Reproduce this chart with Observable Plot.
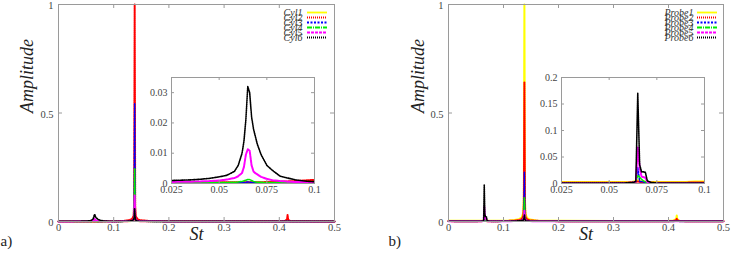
<!DOCTYPE html>
<html><head><meta charset="utf-8">
<script src="https://cdn.jsdelivr.net/npm/d3@7"></script>
<script src="https://cdn.jsdelivr.net/npm/@observablehq/plot@0.6"></script>
<style>
body{margin:0;background:#fff;}
#wrap{position:relative;width:731px;height:256px;overflow:hidden;background:#fff;}
#wrap svg{position:absolute;}
#wrap svg text{font-family:'Liberation Serif','DejaVu Serif',serif !important;}
</style></head><body><div id="wrap"></div>
<script>
// Strouhal number grid (shared)
const St = [0, 0.01, 0.02, 0.025, 0.03, 0.035, 0.04, 0.045, 0.05, 0.054,
  0.058, 0.06, 0.062, 0.063, 0.064, 0.065, 0.066, 0.067, 0.068, 0.069,
  0.07, 0.072, 0.075, 0.078, 0.082, 0.086, 0.09, 0.095, 0.1, 0.11,
  0.12, 0.128, 0.133, 0.136, 0.137, 0.138, 0.139, 0.14, 0.143, 0.148,
  0.16, 0.2, 0.3, 0.4, 0.41, 0.414, 0.415, 0.416, 0.42, 0.45,
  0.5];

const cylNames = ["Cyl1", "Cyl2", "Cyl3", "Cyl4", "Cyl5", "Cyl6"];
const probeNames = ["Probe1", "Probe2", "Probe3", "Probe4", "Probe5", "Probe6"];

const cyl1 = [0.0003,0.0002,0.0002,0.0002,0.0002,0.0002,0.0002,0.0002,0.0002,0.0002,
  0.0002,0.0002,0.0002,0.0002,0.0003,0.0003,0.0003,0.0003,0.0002,0.0002,
  0.0002,0.0002,0.0002,0.0002,0.0002,0.0002,0.0002,0.0003,0.0003,0.0004,
  0.0006,0.001,0.002,0.005,0.012,0.03,0.01,0.004,0.002,0.001,
  0.0006,0.0003,0.0002,0.0002,0.0003,0.0006,0.001,0.0005,0.0003,0.0002,
  0.0002];
const cyl2 = [0.0005,0.0004,0.0004,0.0004,0.0004,0.0004,0.0004,0.0004,0.0004,0.0004,
  0.0004,0.0004,0.0004,0.0004,0.0004,0.0004,0.0004,0.0004,0.0004,0.0004,
  0.0004,0.0004,0.0005,0.0005,0.0006,0.0007,0.0008,0.001,0.0012,0.0018,
  0.003,0.006,0.011,0.025,0.08,1.0,0.07,0.025,0.011,0.006,
  0.003,0.0012,0.0006,0.0008,0.002,0.01,0.03,0.008,0.0015,0.0006,
  0.0004];
const cyl3 = [0.0003,0.0002,0.0002,0.0002,0.0002,0.0002,0.0002,0.0002,0.0002,0.0002,
  0.0002,0.0003,0.0003,0.0003,0.0004,0.0005,0.0004,0.0003,0.0003,0.0003,
  0.0002,0.0002,0.0002,0.0002,0.0002,0.0002,0.0002,0.0002,0.0003,0.0004,
  0.0007,0.0015,0.003,0.008,0.03,0.545,0.025,0.007,0.003,0.0015,
  0.0007,0.0003,0.0002,0.0002,0.0002,0.0003,0.0005,0.0003,0.0002,0.0002,
  0.0002];
const cyl4 = [0.0003,0.0003,0.0003,0.0003,0.0003,0.0003,0.0003,0.0003,0.0003,0.0003,
  0.0004,0.0005,0.0007,0.0009,0.0011,0.0013,0.0013,0.001,0.0007,0.0005,
  0.0004,0.0004,0.0003,0.0003,0.0003,0.0003,0.0003,0.0003,0.0003,0.0004,
  0.0006,0.001,0.002,0.005,0.015,0.245,0.012,0.004,0.002,0.001,
  0.0006,0.0003,0.0003,0.0003,0.0003,0.0004,0.0006,0.0004,0.0003,0.0003,
  0.0003];
const cyl5 = [0.0005,0.0005,0.0005,0.0005,0.0006,0.0006,0.0007,0.0008,0.001,0.0013,
  0.0018,0.0024,0.0035,0.0055,0.0095,0.0113,0.0108,0.006,0.004,0.0034,
  0.003,0.0022,0.0015,0.0011,0.0008,0.0006,0.0005,0.0005,0.0005,0.0006,
  0.001,0.002,0.004,0.008,0.02,0.12,0.015,0.006,0.003,0.0015,
  0.0008,0.0005,0.0004,0.0004,0.0004,0.0005,0.0007,0.0005,0.0004,0.0004,
  0.0004];
const cyl6 = [0.001,0.0008,0.0009,0.001,0.0011,0.0012,0.0014,0.0017,0.0022,0.0027,
  0.004,0.006,0.01,0.014,0.021,0.032,0.03,0.022,0.018,0.0155,
  0.013,0.0095,0.006,0.0043,0.0024,0.0018,0.0012,0.0008,0.0006,0.0006,
  0.001,0.002,0.004,0.008,0.02,0.06,0.015,0.005,0.002,0.0012,
  0.0008,0.0005,0.0004,0.0004,0.0004,0.0005,0.0007,0.0005,0.0004,0.0004,
  0.0004];

const probe1 = [0.004,0.003,0.003,0.003,0.003,0.003,0.003,0.003,0.003,0.003,
  0.003,0.003,0.003,0.004,0.005,0.006,0.005,0.004,0.004,0.003,
  0.003,0.003,0.003,0.003,0.003,0.003,0.003,0.004,0.004,0.005,
  0.007,0.011,0.018,0.04,0.12,1.0,0.1,0.035,0.016,0.009,
  0.005,0.003,0.002,0.003,0.005,0.012,0.028,0.01,0.004,0.002,
  0.002];
const probe2 = [0.002,0.0015,0.0015,0.0015,0.0015,0.0015,0.0015,0.0015,0.0015,0.0015,
  0.0015,0.0015,0.002,0.002,0.003,0.004,0.003,0.003,0.002,0.002,
  0.0015,0.0015,0.0015,0.0015,0.0015,0.0015,0.0015,0.002,0.002,0.003,
  0.004,0.006,0.01,0.025,0.08,0.64,0.07,0.02,0.009,0.005,
  0.003,0.0015,0.001,0.0015,0.003,0.006,0.012,0.005,0.002,0.001,
  0.001];
const probe3 = [0.001,0.0008,0.0008,0.0008,0.0008,0.0008,0.0008,0.0008,0.0008,0.0008,
  0.001,0.0012,0.0015,0.002,0.003,0.03,0.004,0.004,0.003,0.002,
  0.001,0.0008,0.0008,0.0008,0.0008,0.0008,0.0008,0.0008,0.001,0.0012,
  0.002,0.003,0.005,0.01,0.03,0.227,0.025,0.008,0.004,0.002,
  0.0012,0.0008,0.0006,0.0006,0.0008,0.0012,0.002,0.001,0.0007,0.0006,
  0.0006];
const probe4 = [0.001,0.0008,0.0008,0.0008,0.0008,0.0008,0.0008,0.0008,0.0008,0.0008,
  0.001,0.0012,0.0015,0.002,0.004,0.015,0.012,0.008,0.005,0.003,
  0.0015,0.001,0.0008,0.0008,0.0008,0.0008,0.0008,0.0008,0.001,0.0012,
  0.002,0.003,0.004,0.008,0.02,0.11,0.015,0.006,0.003,0.002,
  0.001,0.0008,0.0006,0.0006,0.0008,0.001,0.0015,0.001,0.0007,0.0006,
  0.0006];
const probe5 = [0.001,0.0008,0.0008,0.0008,0.0008,0.0008,0.0008,0.0008,0.0008,0.0008,
  0.001,0.0012,0.0015,0.002,0.004,0.068,0.03,0.013,0.012,0.011,
  0.003,0.0012,0.0008,0.0008,0.0008,0.0008,0.0008,0.0008,0.001,0.0012,
  0.002,0.003,0.004,0.008,0.02,0.05,0.015,0.005,0.003,0.002,
  0.001,0.0008,0.0006,0.0006,0.0008,0.001,0.0015,0.001,0.0007,0.0006,
  0.0006];
const probe6 = [0.001,0.0008,0.0008,0.0008,0.0008,0.0008,0.0008,0.0008,0.0008,0.0008,
  0.001,0.0015,0.002,0.0025,0.004,0.17,0.035,0.022,0.022,0.021,
  0.005,0.002,0.001,0.0008,0.0008,0.0008,0.0008,0.0008,0.001,0.0012,
  0.002,0.003,0.004,0.006,0.012,0.03,0.01,0.004,0.002,0.0015,
  0.001,0.0008,0.0006,0.0006,0.0008,0.001,0.0015,0.001,0.0007,0.0006,
  0.0006];

const mainXTicks = [0, 0.1, 0.2, 0.3, 0.4, 0.5];
const mainYTicks = [0, 0.5, 1];
const insetXTicks = [0.025, 0.05, 0.075, 0.1];
const insetYTicksA = [0, 0.01, 0.02, 0.03];
const insetYTicksB = [0, 0.05, 0.1, 0.15, 0.2];

const cylData = [cyl1, cyl2, cyl3, cyl4, cyl5, cyl6];
const probeData = [probe1, probe2, probe3, probe4, probe5, probe6];

const seriesStyles = [
  {stroke: "#ffff00", strokeWidth: 2},
  {stroke: "#ff0000", strokeWidth: 2, strokeDasharray: "1,1"},
  {stroke: "#0000ff", strokeWidth: 1.5, strokeDasharray: "2,1.5"},
  {stroke: "#00ee00", strokeWidth: 1.5, strokeDasharray: "5,1,1,1"},
  {stroke: "#ff00ff", strokeWidth: 2, strokeDasharray: "3,1"},
  {stroke: "#000000", strokeWidth: 1.6, strokeDasharray: "1,1"}
];

const FONT = "'Liberation Serif', 'DejaVu Serif', serif";
const FRAME = "#9a9a9a";
const wrap = document.getElementById("wrap");

function rows(vals) { return St.map((s, i) => ({St: s, A: vals[i]})); }

function frameTicks(xt, yt, iw, ih, len) {
  return [
    Plot.tickX(xt, {x: d => d, insetBottom: ih - len, stroke: FRAME}),
    Plot.tickX(xt, {x: d => d, insetTop: ih - len, stroke: FRAME}),
    Plot.tickY(yt, {y: d => d, insetRight: iw - len, stroke: FRAME}),
    Plot.tickY(yt, {y: d => d, insetLeft: iw - len, stroke: FRAME})
  ];
}

function place(svg, left, top) {
  svg.style.left = left + "px";
  svg.style.top = top + "px";
  wrap.appendChild(svg);
}

function mainPlot(data, width, mL, mR, tag, labelDx, tagDx) {
  const H = 256, mT = 4, mB = 35;
  const iw = width - mL - mR, ih = H - mT - mB;
  return Plot.plot({
    width, height: H, marginLeft: mL, marginRight: mR, marginTop: mT, marginBottom: mB,
    style: {fontFamily: FONT, background: "transparent", overflow: "visible", color: "#222"},
    x: {domain: [0, 0.5]},
    y: {domain: [0, 1]},
    marks: [
      ...data.map((vals, k) => Plot.line(rows(vals), {x: "St", y: "A", ...seriesStyles[k]})),
      Plot.frame({stroke: FRAME}),
      ...frameTicks(mainXTicks, mainYTicks, iw, ih, 4),
      Plot.axisX(mainXTicks, {tickSize: 0, tickPadding: 2, tickFormat: d => String(d), fontSize: 10.5, fontFamily: FONT, label: null, fill: "#444"}),
      Plot.axisY(mainYTicks, {tickSize: 0, tickPadding: 5, dy: 1.5, tickFormat: d => String(d), fontSize: 10.5, fontFamily: FONT, label: null, fill: "#444"}),
      Plot.text(["St"], {text: d => d, frameAnchor: "bottom", dy: 18, fontSize: 18, fontFamily: FONT, fontStyle: "italic", fill: "#222"}),
      Plot.text(["Amplitude"], {text: d => d, frameAnchor: "left", dx: labelDx, rotate: -90, fontSize: 18, fontFamily: FONT, fontStyle: "italic", fill: "#222"}),
      Plot.text([tag], {text: d => d, frameAnchor: "bottom-left", dx: tagDx, dy: 24, textAnchor: "start", fontSize: 15, fontFamily: FONT, fill: "#222"})
    ]
  });
}

function insetPlot(data, yDomain, yTicks) {
  const W = 193, H = 130, mL = 40, mR = 10, mT = 1, mB = 23;
  const iw = W - mL - mR, ih = H - mT - mB;
  return Plot.plot({
    width: W, height: H, marginLeft: mL, marginRight: mR, marginTop: mT, marginBottom: mB,
    style: {fontFamily: FONT, background: "transparent", overflow: "visible"},
    x: {domain: [0.025, 0.1]},
    y: {domain: yDomain},
    marks: [
      Plot.frame({fill: "white"}),
      ...data.map((vals, k) => Plot.line(rows(vals), {x: "St", y: "A", clip: true, ...seriesStyles[k]})),
      Plot.frame({stroke: FRAME}),
      ...frameTicks(insetXTicks, yTicks, iw, ih, 3),
      Plot.axisX(insetXTicks, {tickSize: 0, tickPadding: 2, tickFormat: d => String(d), fontSize: 10, fontFamily: FONT, label: null, fill: "#444"}),
      Plot.axisY(yTicks, {tickSize: 0, tickPadding: 4, tickFormat: d => String(d), fontSize: 10, fontFamily: FONT, label: null, fill: "#444"})
    ]
  });
}

function legendPlot(names, W, textDx) {
  const H = 49;
  return Plot.plot({
    width: W, height: H, margin: 0, marginTop: 7, marginBottom: 7,
    style: {fontFamily: FONT, background: "transparent", overflow: "visible"},
    x: {domain: [0, 1], axis: null},
    y: {type: "point", domain: names, axis: null},
    marks: [
      Plot.text(names, {y: d => d, text: d => d, frameAnchor: "right", dx: textDx, textAnchor: "end", fontSize: 10, fontFamily: FONT, fontStyle: "italic", fill: "#333"}),
      ...names.map((n, k) => Plot.tickY([n], {y: d => d, insetLeft: W - 20, ...seriesStyles[k], strokeWidth: 1.8}))
    ]
  });
}

place(mainPlot(cylData, 365, 58, 31, "a)", -31, -58), 0, 0);
place(mainPlot(probeData, 366, 83, 8, "b)", -30, -60), 365, 0);
place(insetPlot(cylData, [0, 0.035], insetYTicksA), 131, 76);
place(insetPlot(probeData, [0, 0.2], insetYTicksB), 521, 76);
place(legendPlot(cylNames, 60, -25), 267, 0);
place(legendPlot(probeNames, 70, -24), 647, 0);
</script></body></html>
